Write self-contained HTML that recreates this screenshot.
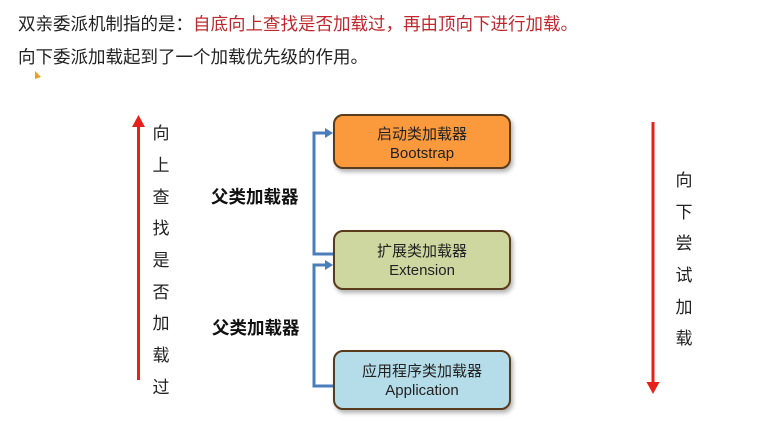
<!DOCTYPE html>
<html><head><meta charset="utf-8"><style>
html,body{margin:0;padding:0;background:#fff;width:772px;height:424px;overflow:hidden}
svg{display:block}
text{font-family:"Liberation Sans","Noto Sans CJK SC",sans-serif}
</style></head><body>
<svg width="772" height="424" viewBox="0 0 772 424" xmlns="http://www.w3.org/2000/svg">
<defs>
<filter id="sh" x="-10%" y="-10%" width="130%" height="140%"><feDropShadow dx="2" dy="3" stdDeviation="2" flood-color="#000" flood-opacity="0.3"/></filter>
</defs>
<text x="18" y="30" font-size="17.5" fill="#222">双亲委派机制指的是：<tspan fill="#c0282d">自底向上查找是否加载过，再由顶向下进行加载。</tspan></text>
<text x="18" y="63" font-size="17.5" fill="#222">向下委派加载起到了一个加载优先级的作用。</text>
<path d="M35 71 L35 79 L41 77 Z" fill="#e8a020"/>

<line x1="138.5" y1="125" x2="138.5" y2="380" stroke="#e8201a" stroke-width="3"/>
<path d="M132 127 L138.5 115 L145 127 Z" fill="#e8201a"/>
<g font-size="17" fill="#222" text-anchor="middle">
<text x="161" y="139">向</text><text x="161" y="171">上</text><text x="161" y="203">查</text><text x="161" y="234">找</text><text x="161" y="266">是</text><text x="161" y="298">否</text><text x="161" y="329">加</text><text x="161" y="361">载</text><text x="161" y="393">过</text>
</g>

<line x1="653" y1="122" x2="653" y2="384" stroke="#e8201a" stroke-width="3"/>
<path d="M646.5 382 L653 394 L659.5 382 Z" fill="#e8201a"/>
<g font-size="17" fill="#222" text-anchor="middle">
<text x="684" y="186">向</text><text x="684" y="218">下</text><text x="684" y="249">尝</text><text x="684" y="281">试</text><text x="684" y="313">加</text><text x="684" y="344">载</text>
</g>

<g font-size="17.5" font-weight="bold" fill="#111">
<text x="211" y="203">父类加载器</text>
<text x="212" y="334">父类加载器</text>
</g>

<g stroke="#4a7ebb" stroke-width="3" fill="none">
<polyline points="333,254 314,254 314,133 326,133"/>
<polyline points="333,386 314,386 314,265 326,265"/>
</g>
<path d="M325 128 L333 133 L325 138 Z" fill="#4a7ebb"/>
<path d="M325 260 L333 265 L325 270 Z" fill="#4a7ebb"/>

<rect x="334" y="115" width="176" height="53" rx="9" fill="#fb9a3c" stroke="#5a3a1a" stroke-width="2" filter="url(#sh)"/>
<rect x="334" y="231" width="176" height="58" rx="9" fill="#cdd79f" stroke="#5a3a1a" stroke-width="2" filter="url(#sh)"/>
<rect x="334" y="351" width="176" height="58" rx="9" fill="#b5dde9" stroke="#5a3a1a" stroke-width="2" filter="url(#sh)"/>
<g font-size="15" fill="#222" text-anchor="middle">
<text x="422" y="139">启动类加载器</text><text x="422" y="158">Bootstrap</text>
<text x="422" y="256">扩展类加载器</text><text x="422" y="275">Extension</text>
<text x="422" y="376">应用程序类加载器</text><text x="422" y="395">Application</text>
</g>
</svg>
</body></html>
